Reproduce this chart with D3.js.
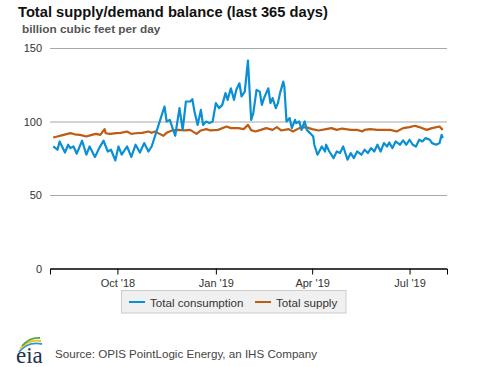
<!DOCTYPE html>
<html>
<head>
<meta charset="utf-8">
<script src="https://cdnjs.cloudflare.com/ajax/libs/d3/7.8.5/d3.min.js"></script>
<style>
  body { margin: 0; background: #fff; }
  svg { display: block; font-family: Arial, "Liberation Sans", sans-serif; }
</style>
</head>
<body>
<svg id="chart" width="477" height="367"></svg>
<script>
////////////////////
//     DATA      ///
////////////////////

//first day of the 365 day window, offsets below count days from it
var startDay = new Date(2018, 7, 2);

//total consumption, read at turning points (day offset, bcf/d)
var consDays = [0, 4, 6, 11, 14, 16, 19, 22, 27, 31, 34, 39, 43, 47, 51, 54, 58, 61, 64, 69, 73, 77, 81, 85, 89,
                92, 95, 100, 104, 106, 109, 111, 114, 118, 121, 124, 128, 130, 132, 135, 138, 140, 143, 146, 149,
                152, 155, 158, 161, 163, 166, 169, 171, 174, 176, 179, 182,
                185, 187, 190, 193, 195, 197, 201, 203, 205, 208, 210, 212, 215, 216, 218, 221, 223, 226, 227, 230,
                232, 235, 237, 240, 243, 244, 247, 251, 254, 255, 258, 262, 265, 268, 271,
                275, 278, 281, 284, 288, 291, 294, 297, 300, 303, 306, 309, 312, 314, 317, 320, 324, 327, 330, 333,
                336, 339, 342, 345, 348, 352, 354, 358, 361, 363, 364];
var consValues = [83.0, 80.8, 86.4, 78.9, 84.2, 81.9, 83.0, 78.1, 86.9, 77.4, 83.0, 75.9, 81.9, 86.9, 79.6, 80.8, 73.5, 83.0, 77.4, 83.0, 75.9, 84.2, 78.9, 85.3, 79.6,
                  83.0, 89.8, 101.1, 110.2, 100.0, 101.1, 96.6, 90.3, 109.1, 94.3, 113.6, 113.6, 115.2, 106.8, 97.7, 107.9, 97.7, 100.0, 98.9, 100.0,
                  112.5, 109.1, 111.3, 119.3, 114.7, 122.6, 114.7, 121.5, 126.0, 117.0, 120.3, 141.4,
                  101.1, 105.7, 121.5, 120.3, 111.3, 115.9, 122.6, 112.5, 115.9, 109.1, 112.5, 119.3, 127.1, 123.7, 100.0, 102.3, 95.5, 101.1, 98.9, 100.0,
                  94.3, 100.0, 94.3, 92.1, 89.8, 84.2, 77.4, 83.0, 79.6, 84.2, 79.6, 75.1, 79.6, 78.5, 83.0,
                  74.0, 78.5, 75.1, 79.6, 77.4, 80.8, 78.5, 81.9, 79.6, 84.2, 79.6, 85.3, 83.0, 85.7, 81.9, 86.4, 84.2, 87.1, 84.2, 87.6,
                  84.2, 83.0, 87.6, 86.4, 88.7, 87.6, 85.3, 84.2, 85.3, 90.9, 88.7];

//total supply, read at turning points (day offset, bcf/d)
var supplyDays = [0, 3, 8, 16, 20, 25, 31, 36, 40, 44, 48, 49, 53, 59, 63, 69, 73, 77, 83, 89,
                  92, 95, 98, 103, 106, 111, 117, 123, 128, 134, 138, 143, 147, 154, 162, 166, 173, 178, 182,
                  185, 189, 194, 199, 205, 209, 213, 220, 224, 230, 236, 242, 248, 255, 260, 265, 270,
                  278, 284, 289, 291, 296, 303, 309, 315, 321, 327, 333, 338, 342, 349, 354, 361, 364];
var supplyValues = [89.1, 89.6, 90.6, 92.1, 91.3, 90.9, 89.8, 90.9, 91.6, 90.9, 94.8, 92.0, 91.6, 92.1, 92.3, 93.2, 91.6, 92.0, 92.3, 93.2,
                    92.3, 93.2, 92.1, 90.3, 92.3, 93.9, 94.3, 93.9, 94.3, 91.6, 93.9, 94.8, 93.9, 94.3, 96.6, 95.5, 95.5, 94.8, 97.7,
                    94.1, 93.2, 94.3, 95.5, 94.3, 96.2, 93.9, 94.8, 93.2, 95.5, 96.2, 94.8, 93.9, 94.8, 95.5, 94.3, 95.2,
                    94.3, 94.3, 93.2, 94.3, 94.8, 94.3, 94.3, 94.3, 93.2, 95.5, 96.2, 97.1, 96.2, 94.3, 95.5, 96.6, 94.3];

var yTicks = [0, 50, 100, 150];
var xTicks = [new Date(2018, 9, 1), new Date(2019, 0, 1), new Date(2019, 3, 1), new Date(2019, 6, 1)];
var seriesNames = ["Total consumption", "Total supply"];

////////////////////
//    OPTIONS    ///
////////////////////

var plot = {left: 50, right: 447, top: 48, bottom: 268.5};
var colors = {"Total consumption": "#0a8fd4", "Total supply": "#bd5c12"};

var svg = d3.select("#chart");

var x = d3.scaleTime()
  .domain([new Date(2018, 6, 30), new Date(2019, 7, 5)])
  .range([plot.left, plot.right]);

var y = d3.scaleLinear()
  .domain([0, 150])
  .range([plot.bottom, plot.top]);

//title and units
svg.append("text")
  .attr("x", 18).attr("y", 17)
  .style("font-size", "14.7px").style("font-weight", "bold").style("fill", "#111")
  .text("Total supply/demand balance (last 365 days)");

svg.append("text")
  .attr("x", 22).attr("y", 33)
  .style("font-size", "11.8px").style("font-weight", "bold").style("fill", "#555")
  .text("billion cubic feet per day");

//horizontal gridlines + y labels
var yAxis = svg.append("g")
  .attr("transform", "translate(" + plot.left + ",0)")
  .call(d3.axisLeft(y).tickValues(yTicks).tickSize(-(plot.right - plot.left)).tickPadding(8));
yAxis.select(".domain").remove();
yAxis.selectAll(".tick line").attr("stroke", "#a8a8a8");
yAxis.selectAll(".tick text").style("font-size", "11px").style("fill", "#333").attr("font-family", null);

//x axis
var xAxis = svg.append("g")
  .attr("transform", "translate(0," + plot.bottom + ")")
  .call(d3.axisBottom(x).tickValues(xTicks).tickFormat(d3.timeFormat("%b '%y")).tickSizeOuter(0).tickSize(6).tickPadding(5));
xAxis.select(".domain").attr("stroke", "#000");
xAxis.selectAll(".tick line").attr("stroke", "#000");
xAxis.selectAll(".tick text").style("font-size", "11px").style("fill", "#333").attr("font-family", null);
//the zero gridline reads as the axis
yAxis.selectAll(".tick").filter(function(d) { return d === 0; }).select("line").attr("stroke", "#000");

//lines
var line = d3.line()
  .x(function(d) { return x(d3.timeDay.offset(startDay, d[0])); })
  .y(function(d) { return y(d[1]); });

var supply = d3.zip(supplyDays, supplyValues);
var cons = d3.zip(consDays, consValues);

svg.append("path")
  .datum(supply)
  .attr("d", line)
  .attr("fill", "none")
  .attr("stroke", colors["Total supply"])
  .attr("stroke-width", 2.2)
  .attr("stroke-linejoin", "round");

svg.append("path")
  .datum(cons)
  .attr("d", line)
  .attr("fill", "none")
  .attr("stroke", colors["Total consumption"])
  .attr("stroke-width", 2.2)
  .attr("stroke-linejoin", "round");

//legend
var legend = svg.append("g");
legend.append("rect")
  .attr("x", 121.5).attr("y", 290.5).attr("width", 224.5).attr("height", 22.5)
  .attr("fill", "#f0f0f0").attr("stroke", "#ccc");

var legendX = [129, 255];
seriesNames.forEach(function(name, i) {
  legend.append("line")
    .attr("x1", legendX[i]).attr("x2", legendX[i] + 16)
    .attr("y1", 302).attr("y2", 302)
    .attr("stroke", colors[name]).attr("stroke-width", 2);
  legend.append("text")
    .attr("x", legendX[i] + 21).attr("y", 306.5)
    .style("font-size", "11.6px").style("fill", "#333")
    .text(name);
});

//source + eia logo
svg.append("text")
  .attr("x", 55).attr("y", 357.5)
  .style("font-size", "11.6px").style("fill", "#444")
  .text("Source: OPIS PointLogic Energy, an IHS Company");

var logo = svg.append("g");
var arcs = [
  {c: "#2b9bd6", d: "M19,352 Q28,341 42,344"},
  {c: "#f2c31b", d: "M20,349 Q29,339 41,341"},
  {c: "#5aa845", d: "M22,346 Q30,337 40,338"}
];
arcs.forEach(function(a) {
  logo.append("path").attr("d", a.d).attr("fill", "none").attr("stroke", a.c).attr("stroke-width", 1.8);
});
logo.append("text")
  .attr("x", 16).attr("y", 362.5)
  .style("font-family", "'Liberation Serif', 'DejaVu Serif', serif")
  .style("font-size", "23px").style("fill", "#1b2f4f")
  .text("eia");
</script>
</body>
</html>
